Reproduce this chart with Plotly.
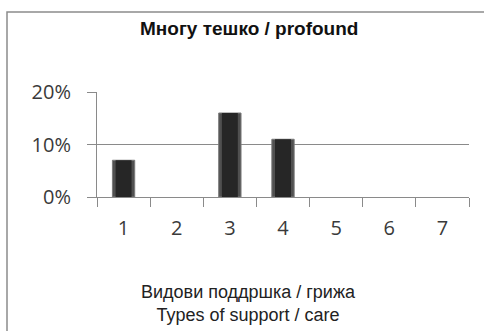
import plotly.graph_objects as go

# Share of respondents per type of support / care (profound group)
categories = ["1", "2", "3", "4", "5", "6", "7"]
shares = [0.07, 0.0, 0.16, 0.11, 0.0, 0.0, 0.0]
y_ticks = [0, 0.10, 0.20]
y_tick_labels = ["0%", "10%", "20%"]

title_text = "<b>Многу тешко / profound</b>"
x_title_text = "Видови поддршка / грижа<br>Types of support / care"

W, H = 484, 331
grey = "#8a8a8a"
tick_font = dict(family="Open Sans, Lato, sans-serif", size=20, color="#3a3a3a")

# empty categories get no outline so nothing is drawn for them
edge_widths = [1 if v > 0 else 0 for v in shares]

fig = go.Figure()
# outer bar body with a lighter bevelled edge
fig.add_trace(go.Bar(
    x=categories,
    y=shares,
    width=0.42,
    marker=dict(color="#505050", line=dict(color="#7a7a7a", width=edge_widths)),
    hoverinfo="skip",
))
# darker core of each bar
fig.add_trace(go.Bar(
    x=categories,
    y=shares,
    width=0.30,
    marker=dict(color="#262626", line=dict(width=0)),
    hoverinfo="skip",
))

fig.update_layout(
    width=W,
    height=H,
    margin=dict(l=97, r=15, t=92, b=134),
    paper_bgcolor="white",
    plot_bgcolor="white",
    showlegend=False,
    barmode="overlay",
    xaxis=dict(
        type="category",
        tickson="boundaries",
        ticks="outside",
        ticklen=9,
        tickcolor=grey,
        showline=True,
        linecolor=grey,
        linewidth=1,
        showgrid=False,
        tickfont=tick_font,
        ticklabelstandoff=13,
    ),
    yaxis=dict(
        range=[0, 0.2],
        tickvals=y_ticks,
        ticktext=y_tick_labels,
        ticks="outside",
        ticklen=9,
        tickcolor=grey,
        showline=True,
        linecolor=grey,
        linewidth=1,
        showgrid=True,
        gridcolor=grey,
        gridwidth=1,
        zeroline=False,
        tickfont=tick_font,
        ticklabelstandoff=12,
    ),
    shapes=[
        # chart frame (right and bottom edges fall outside the page)
        dict(type="rect", xref="paper", yref="paper",
             x0=-90 / 372, x1=1.6, y0=-2.5, y1=1 + 80 / 105,
             line=dict(color="#8c8c8c", width=1.5), fillcolor="rgba(0,0,0,0)",
             layer="below"),
    ],
    annotations=[
        dict(text=title_text, xref="paper", yref="paper",
             x=(249 - 97) / 372, y=1 + (92 - 28) / 105,
             xanchor="center", yanchor="middle", showarrow=False,
             font=dict(family="Liberation Sans, Arial, sans-serif", size=19, color="#111")),
        dict(text=x_title_text, xref="paper", yref="paper",
             x=(248 - 97) / 372, y=-(303 - 197) / 105,
             xanchor="center", yanchor="middle", showarrow=False,
             font=dict(family="Liberation Sans, Arial, sans-serif", size=18, color="#222")),
    ],
)

fig.write_html("out.html")
